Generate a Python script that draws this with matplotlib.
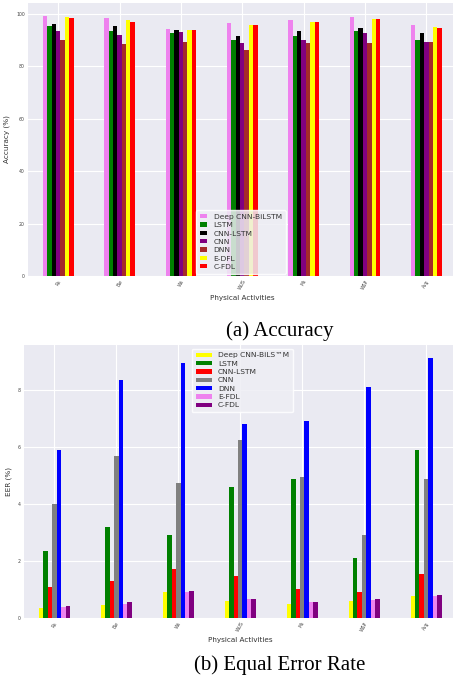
import matplotlib
matplotlib.use("Agg")
import matplotlib.pyplot as plt
import numpy as np

activities = ["Rs", "Bw", "Ws", "WUS", "Ms", "WSP", "Avg"]

# Accuracy (%)
acc_models = ["Deep CNN-BiLSTM", "LSTM", "CNN-LSTM", "CNN", "DNN", "E-DFL", "C-FDL"]
acc_colors = ["violet", "green", "black", "purple", "brown", "yellow", "red"]
acc_deep = [99.2, 98.3, 94.4, 96.7, 97.7, 99.0, 95.8]
acc_lstm = [95.2, 93.3, 92.6, 90.1, 91.6, 93.3, 90.1]
acc_cnnlstm = [96.2, 95.4, 93.9, 91.6, 93.3, 94.8, 92.6]
acc_cnn = [93.6, 92.0, 93.0, 88.8, 90.1, 92.9, 89.4]
acc_dnn = [90.1, 88.5, 89.3, 86.3, 88.8, 88.8, 89.4]
acc_edfl = [98.7, 97.5, 93.9, 95.7, 96.9, 98.0, 94.9]
acc_cfdl = [98.6, 97.1, 93.9, 95.7, 96.9, 98.0, 94.8]

# Equal Error Rate (%)
eer_models = ["Deep CNN-BiLS\u2122M", "LSTM", "CNN-LSTM", "CNN", "DNN", "E-FDL", "C-FDL"]
eer_colors = ["yellow", "green", "red", "gray", "blue", "violet", "purple"]
eer_deep = [0.35, 0.47, 0.91, 0.61, 0.49, 0.61, 0.76]
eer_lstm = [2.36, 3.21, 2.90, 4.59, 4.88, 2.10, 5.90]
eer_cnnlstm = [1.09, 1.31, 1.72, 1.48, 1.02, 0.90, 1.54]
eer_cnn = [4.00, 5.69, 4.75, 6.25, 4.96, 2.90, 4.87]
eer_dnn = [5.90, 8.37, 8.94, 6.80, 6.92, 8.12, 9.13]
eer_efdl = [0.39, 0.50, 0.91, 0.67, 0.55, 0.64, 0.78]
eer_cfdl = [0.41, 0.55, 0.96, 0.67, 0.55, 0.67, 0.82]

acc_series = [acc_deep, acc_lstm, acc_cnnlstm, acc_cnn, acc_dnn, acc_edfl, acc_cfdl]
eer_series = [eer_deep, eer_lstm, eer_cnnlstm, eer_cnn, eer_dnn, eer_efdl, eer_cfdl]

W, H = 453, 687
fig = plt.figure(figsize=(W / 100, H / 100), dpi=100)
fig.patch.set_facecolor("white")

BG = "#EAEAF2"


def grouped(ax, series, names, colors):
    n = len(series)
    x = np.arange(len(activities))
    width = 0.5 / n
    for i, (vals, nm, c) in enumerate(zip(series, names, colors)):
        ax.bar(x - 0.25 + width * (i + 0.5), vals, width, color=c, label=nm, zorder=2)
    ax.set_xlim(-0.5, len(activities) - 0.5)
    ax.set_facecolor(BG)
    ax.grid(True, color="white", linewidth=0.8, zorder=0)
    ax.set_axisbelow(True)
    for s in ax.spines.values():
        s.set_visible(False)
    ax.set_xticks(x)
    ax.set_xticklabels(activities, rotation=60, fontsize=3.3, color="#444444")
    ax.tick_params(axis="both", length=0, pad=2, labelsize=3.3, colors="#444444")
    ax.set_xlabel("Physical Activities", fontsize=5.2, color="#333333", labelpad=3)


def axrect(l, t, r, b):
    return [l / W, 1 - b / H, (r - l) / W, (b - t) / H]


leg_kw = dict(fontsize=5.4, frameon=True, facecolor="#EEEEF4", edgecolor="white",
              framealpha=0.85, handleheight=0.5, labelspacing=0.31, borderpad=0.5,
              labelcolor="#333333")

ax1 = fig.add_axes(axrect(27.5, 3, 457, 276))
grouped(ax1, acc_series, acc_models, acc_colors)
ax1.set_ylim(0, max(max(s) for s in acc_series) * 1.05)
ax1.set_yticks([0, 20, 40, 60, 80, 100])
ax1.set_ylabel("Accuracy (%)", fontsize=5.2, color="#333333", labelpad=4)
ax1.legend(loc="lower left", bbox_to_anchor=((192 - 27.5) / (457 - 27.5), -0.005),
           handlelength=1.0, handletextpad=0.9, **leg_kw)

ax2 = fig.add_axes(axrect(23.5, 345, 457, 618))
grouped(ax2, eer_series, eer_models, eer_colors)
ax2.set_ylim(0, max(max(s) for s in eer_series) * 1.05)
ax2.set_yticks([0, 2, 4, 6, 8])
ax2.set_ylabel("EER (%)", fontsize=5.2, color="#333333", labelpad=4)
ax2.legend(loc="upper left", bbox_to_anchor=((188 - 23.5) / (457 - 23.5), 1.0),
           handlelength=2.2, handletextpad=0.8, **leg_kw)

fig.text(280 / W, 1 - 331 / H, "(a) Accuracy", ha="center", va="center",
         fontsize=15, family="Liberation Serif")
fig.text(280 / W, 1 - 665 / H, "(b) Equal Error Rate", ha="center", va="center",
         fontsize=15, family="Liberation Serif")

fig.savefig("out.png", dpi=100)
